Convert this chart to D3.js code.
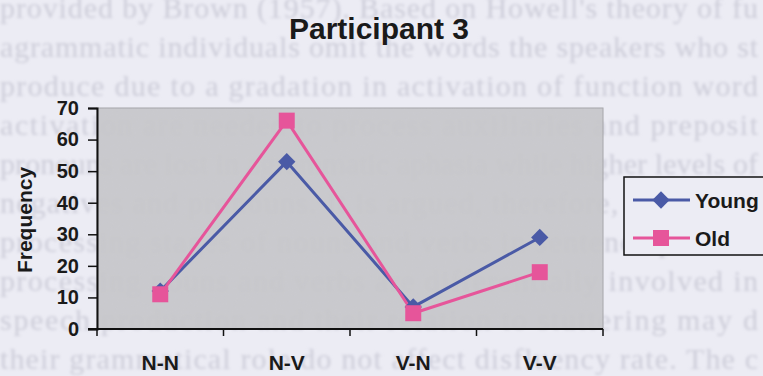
<!DOCTYPE html>
<html>
<head>
<meta charset="utf-8">
<script src="https://cdn.jsdelivr.net/npm/d3@7/dist/d3.min.js"></script>
<style>
  html, body { margin: 0; padding: 0; background: #ececf4; }
  svg { display: block; }
</style>
</head>
<body>
<svg id="chart" width="763" height="376"></svg>
<script>
// Word-pair categories and frequency counts per age group
const categories = ["N-N", "N-V", "V-N", "V-V"];
const youngValues = [12, 53, 7, 29];
const oldValues = [11, 66, 5, 18];
const yTicks = [0, 10, 20, 30, 40, 50, 60, 70];
const seriesNames = ["Young", "Old"];
const titleText = "Participant 3";
const yAxisTitle = "Frequency";

// Faint show-through text from the facing page
const pageLines = [
  "provided by Brown (1957). Based on Howell's theory of fu",
  "agrammatic individuals omit the words the speakers who st",
  "produce due to a gradation in activation of function word",
  "activation are needed to process auxiliaries and preposit",
  "pronouns are lost in agrammatic aphasia while higher levels of",
  "negatives and pronouns. It is argued, therefore, that the le",
  "processing stages of nouns and verbs in sentence product",
  "processing nouns and verbs are differentially involved in",
  "speech production and their relation to stuttering may d",
  "their grammatical role do not affect disfluency rate. The c"
];

const svg = d3.select("#chart");

const defs = svg.append("defs");
defs.append("filter").attr("id", "soft")
  .attr("x", -0.05).attr("y", -0.05).attr("width", 1.1).attr("height", 1.1)
  .append("feGaussianBlur").attr("stdDeviation", 1.5);
const grain = defs.append("filter").attr("id", "grain")
  .attr("x", 0).attr("y", 0).attr("width", 1).attr("height", 1);
grain.append("feTurbulence").attr("type", "fractalNoise")
  .attr("baseFrequency", 0.9).attr("numOctaves", 2).attr("seed", 4);
grain.append("feColorMatrix").attr("type", "matrix")
  .attr("values", "0 0 0 0 0.6  0 0 0 0 0.6  0 0 0 0 0.66  0 0 0 0.3 0");

// Background page text, justified across the page width
svg.append("g").attr("filter", "url(#soft)")
  .selectAll("text").data(pageLines).join("text")
  .attr("x", 0)
  .attr("y", (d, i) => 18 + i * 39)
  .attr("textLength", 758)
  .attr("lengthAdjust", "spacing")
  .attr("font-family", "Liberation Serif, Times New Roman, serif")
  .attr("font-size", 30)
  .attr("fill", "#cdcdd9")
  .text(d => d);

const plot = { left: 97, right: 603, top: 108, bottom: 329 };

const x = d3.scaleBand().domain(categories).range([plot.left, plot.right]);
const y = d3.scaleLinear().domain([0, 70]).range([plot.bottom, plot.top]);

// Plot area
svg.append("rect")
  .attr("x", plot.left).attr("y", plot.top)
  .attr("width", plot.right - plot.left).attr("height", plot.bottom - plot.top)
  .attr("fill", "#c6c6c9").attr("fill-opacity", 0.93)
  .attr("stroke", "#a4a4a8").attr("stroke-width", 1);
svg.append("rect")
  .attr("x", plot.left).attr("y", plot.top)
  .attr("width", plot.right - plot.left).attr("height", plot.bottom - plot.top)
  .attr("filter", "url(#grain)").attr("opacity", 0.45);

const font = "Liberation Sans, Arial, sans-serif";

// Y axis
const yAxis = svg.append("g")
  .attr("transform", `translate(${plot.left},0)`)
  .call(d3.axisLeft(y).tickValues(yTicks).tickSize(9).tickPadding(9));
yAxis.select(".domain").attr("stroke", "#111").attr("stroke-width", 2);
yAxis.selectAll(".tick line").attr("stroke", "#111").attr("stroke-width", 1.5);
yAxis.selectAll(".tick text")
  .attr("font-family", font).attr("font-weight", "bold")
  .attr("font-size", 20).attr("fill", "#1a1a1a");

// X axis: ticks between categories, labels centred in bands
const xAxis = svg.append("g")
  .attr("transform", `translate(0,${plot.bottom})`);
xAxis.append("line")
  .attr("x1", plot.left - 9).attr("x2", plot.right)
  .attr("stroke", "#111").attr("stroke-width", 2);
const boundaries = categories.map(c => x(c)).concat([plot.right]);
xAxis.selectAll("line.tk").data(boundaries).join("line")
  .attr("class", "tk")
  .attr("x1", d => d).attr("x2", d => d)
  .attr("y1", 0).attr("y2", 7)
  .attr("stroke", "#111").attr("stroke-width", 1.5);
xAxis.selectAll("text").data(categories).join("text")
  .attr("x", d => x(d) + x.bandwidth() / 2)
  .attr("y", 41)
  .attr("text-anchor", "middle")
  .attr("font-family", font).attr("font-weight", "bold")
  .attr("font-size", 21).attr("fill", "#1a1a1a")
  .text(d => d);

// Titles
svg.append("text")
  .attr("x", 379).attr("y", 39)
  .attr("text-anchor", "middle")
  .attr("font-family", font).attr("font-weight", "bold")
  .attr("font-size", 30).attr("fill", "#1a1a1a")
  .text(titleText);
svg.append("text")
  .attr("transform", `translate(32,220) rotate(-90)`)
  .attr("text-anchor", "middle")
  .attr("font-family", font).attr("font-weight", "bold")
  .attr("font-size", 21).attr("fill", "#1a1a1a")
  .text(yAxisTitle);

// Series
const colors = ["#4a5aa6", "#e6559a"];
const cx = c => x(c) + x.bandwidth() / 2;
const line = d3.line().x(d => cx(d.c)).y(d => y(d.v));
const series = [youngValues, oldValues].map((vals, i) => ({
  name: seriesNames[i],
  color: colors[i],
  points: categories.map((c, j) => ({ c, v: vals[j] }))
}));

// Diamond = square turned 45 degrees; Old uses a plain square
const diamondPath = d3.symbol().type(d3.symbolSquare).size(150)();
const squarePath = d3.symbol().type(d3.symbolSquare).size(256)();
const marker = (sel, i, tx, ty) => sel
  .attr("transform", (d) => `translate(${tx(d)},${ty(d)})` + (i === 0 ? " rotate(45)" : ""))
  .attr("d", i === 0 ? diamondPath : squarePath);

series.forEach(s => {
  svg.append("path").datum(s.points)
    .attr("fill", "none").attr("stroke", s.color)
    .attr("stroke-width", 3).attr("stroke-linejoin", "round").attr("d", line);
});
series.forEach((s, i) => {
  svg.selectAll(null).data(s.points).join("path")
    .call(marker, i, d => cx(d.c), d => y(d.v))
    .attr("fill", s.color);
});

// Legend
const lg = svg.append("g").attr("transform", "translate(624,177)");
lg.append("rect")
  .attr("width", 150).attr("height", 78)
  .attr("fill", "#ececf4").attr("stroke", "#111").attr("stroke-width", 1.5);
series.forEach((s, i) => {
  const yy = 23 + i * 38;
  lg.append("line").attr("x1", 9).attr("x2", 66).attr("y1", yy).attr("y2", yy)
    .attr("stroke", s.color).attr("stroke-width", 3);
  lg.append("path").datum(0)
    .call(marker, i, () => 37, () => yy)
    .attr("fill", s.color);
  lg.append("text").attr("x", 71).attr("y", yy + 8)
    .attr("font-family", font).attr("font-weight", "bold")
    .attr("font-size", 21).attr("fill", "#1a1a1a")
    .text(s.name);
});
</script>
</body>
</html>
